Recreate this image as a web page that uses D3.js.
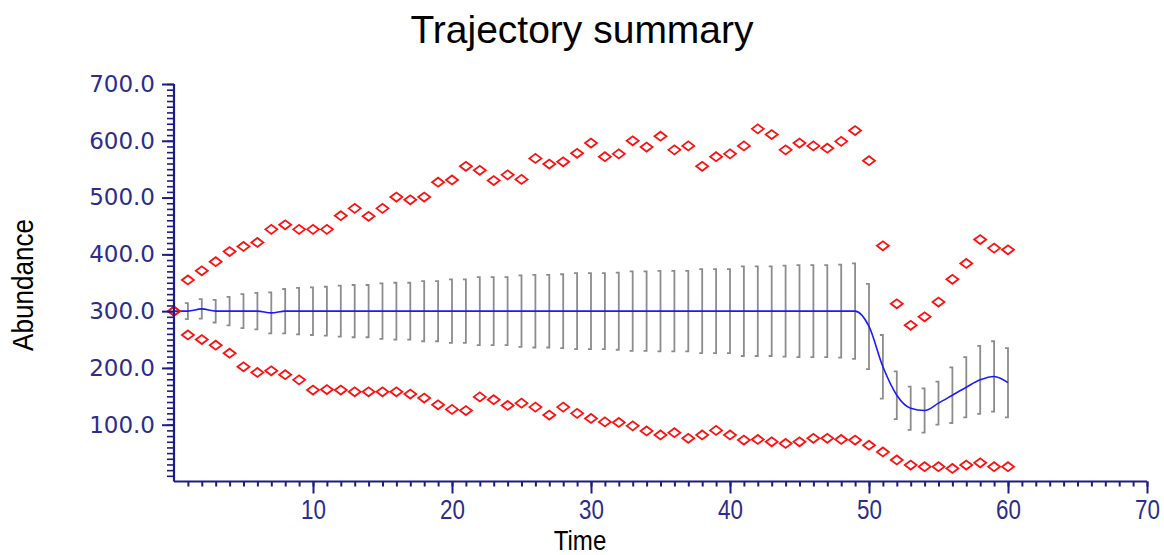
<!DOCTYPE html>
<html>
<head>
<meta charset="utf-8">
<script src="https://cdn.jsdelivr.net/npm/d3@7"></script>
<style>
  body { margin: 0; background: #fff; }
  svg { display: block; }
</style>
</head>
<body>
<svg id="chart" width="1164" height="555"></svg>
<script>
// time steps 0..60
const times = d3.range(0, 61);

// upper envelope (red diamonds)
const maxValues = [300,
  355, 371, 387, 405, 414, 421, 444, 452, 444, 444,
  444, 468, 481, 467, 481, 501, 496, 501, 527, 531,
  555, 548, 530, 540, 532, 569, 559, 563, 578, 596,
  572, 577, 600, 589, 608, 584, 591, 555, 572, 577,
  591, 621, 611, 584, 596, 591, 587, 599, 618, 565,
  415, 313, 275, 290, 316, 356, 384, 426, 411, 408];

// lower envelope (red diamonds)
const minValues = [300,
  258, 250, 240, 226, 202, 192, 195, 188, 179, 161,
  162, 161, 158, 158, 158, 158, 154, 147, 135, 127,
  125, 149, 144, 134, 138, 131, 117, 131, 120, 111,
  105, 104, 98, 89, 82, 86, 76, 82, 90, 82,
  73, 74, 70, 67, 70, 76, 76, 74, 73, 64,
  52, 38, 29, 26, 26, 23, 29, 33, 26, 26];

// mean trajectory (blue line)
const meanValues = [300,
  300, 304, 300, 300, 300, 300, 297, 300, 300, 300,
  300, 300, 300, 300, 300, 300, 300, 300, 300, 300,
  300, 300, 300, 300, 300, 300, 300, 300, 300, 300,
  300, 300, 300, 300, 300, 300, 300, 300, 300, 300,
  300, 300, 300, 300, 300, 300, 300, 300, 300, 273,
  202, 152, 129, 125, 138, 152, 166, 179, 185, 174];

// half width of the grey error bars, t = 1..60
const errValues = [
  14, 17, 20, 25, 30, 32, 36, 39, 41, 42,
  43, 45, 46, 46, 49, 50, 50, 53, 53, 56,
  56, 60, 60, 60, 63, 64, 64, 65, 67, 67,
  67, 68, 70, 70, 71, 71, 71, 74, 74, 74,
  79, 79, 79, 80, 81, 81, 81, 82, 84, 75,
  56, 42, 38, 39, 38, 49, 53, 60, 62, 61];

const xTicks = [10, 20, 30, 40, 50, 60, 70];
const yTicks = [100, 200, 300, 400, 500, 600, 700];

const axisColor = "#1c1c86";
const labelColor = "#2c2c8c";

const svg = d3.select("#chart");

const x = d3.scaleLinear().domain([0, 70]).range([174, 1147]);
const y = d3.scaleLinear().domain([0, 700]).range([481.5, 84]);

// title
svg.append("text")
  .attr("x", 582).attr("y", 43)
  .attr("text-anchor", "middle")
  .style("font-family", "'Liberation Sans', Arial, sans-serif")
  .style("font-size", "39px")
  .attr("fill", "#000")
  .text("Trajectory summary");

// error bars
const bars = svg.append("g").attr("class", "errbars");
errValues.forEach((e, i) => {
  const t = i + 1;
  const m = meanValues[t];
  const px = x(t);
  bars.append("path")
    .attr("d", `M${px - 3},${y(m + e)} H${px} V${y(m - e)} H${px - 3}`)
    .attr("fill", "none")
    .attr("stroke", "#8c8c8c")
    .attr("stroke-width", 1.8);
});

// mean line
const line = d3.line()
  .x((d, i) => x(times[i]))
  .y(d => y(d))
  .curve(d3.curveMonotoneX);

svg.append("path")
  .datum(meanValues)
  .attr("d", line)
  .attr("fill", "none")
  .attr("stroke", "#1a1aff")
  .attr("stroke-width", 1.6);

// diamonds
const diamond = "M-6,0 L0,-4.5 L6,0 L0,4.5 Z";
[maxValues, minValues].forEach(series => {
  svg.append("g").selectAll("path")
    .data(series)
    .join("path")
    .attr("transform", (d, i) => `translate(${x(times[i])},${y(d)})`)
    .attr("d", diamond)
    .attr("fill", "none")
    .attr("stroke", "#ff1010")
    .attr("stroke-width", 1.8);
});

// x axis: minor ticks then major ticks with labels
svg.append("g")
  .attr("transform", `translate(0,${y(0)})`)
  .call(d3.axisBottom(x).tickValues(d3.range(1, 71)).tickSize(5).tickSizeOuter(0).tickFormat(""))
  .call(g => g.select(".domain").remove())
  .call(g => g.selectAll("line").attr("stroke", axisColor).attr("stroke-width", 2));

const xAxis = svg.append("g")
  .attr("transform", `translate(0,${y(0)})`)
  .call(d3.axisBottom(x).tickValues(xTicks).tickSize(12).tickSizeOuter(0).tickPadding(6));
xAxis.select(".domain").attr("stroke", axisColor).attr("stroke-width", 2.2)
  .attr("d", `M${x(0)},0H${x(70)}`);
xAxis.selectAll("line").attr("stroke", axisColor).attr("stroke-width", 2);
xAxis.selectAll("text")
  .attr("fill", labelColor)
  .attr("transform", "scale(0.8,1)")
  .style("font-family", "'Liberation Sans', Arial, sans-serif")
  .style("font-size", "28px");

// y axis
svg.append("g")
  .attr("transform", `translate(${x(0)},0)`)
  .call(d3.axisLeft(y).tickValues(d3.range(10, 701, 10)).tickSize(7).tickSizeOuter(0).tickFormat(""))
  .call(g => g.select(".domain").remove())
  .call(g => g.selectAll("line").attr("stroke", axisColor).attr("stroke-width", 1.6));

const yAxis = svg.append("g")
  .attr("transform", `translate(${x(0)},0)`)
  .call(d3.axisLeft(y).tickValues(yTicks).tickSize(12).tickSizeOuter(0).tickPadding(7).tickFormat(d3.format(".1f")));
yAxis.select(".domain").attr("stroke", axisColor).attr("stroke-width", 2.2)
  .attr("d", `M0,${y(0)}V${y(700)}`);
yAxis.selectAll("line").attr("stroke", axisColor).attr("stroke-width", 2);
yAxis.selectAll("text")
  .attr("fill", labelColor)
  .style("font-family", "'DejaVu Sans', Verdana, sans-serif")
  .style("font-size", "23px");

// axis titles
svg.append("text")
  .attr("transform", "translate(580,550) scale(0.86,1)")
  .attr("text-anchor", "middle")
  .style("font-family", "'Liberation Sans', Arial, sans-serif")
  .style("font-size", "28px")
  .attr("fill", "#000")
  .text("Time");

svg.append("text")
  .attr("transform", "translate(33,285) rotate(-90) scale(0.9,1)")
  .attr("text-anchor", "middle")
  .style("font-family", "'Liberation Sans', Arial, sans-serif")
  .style("font-size", "29px")
  .attr("fill", "#000")
  .text("Abundance");
</script>
</body>
</html>
